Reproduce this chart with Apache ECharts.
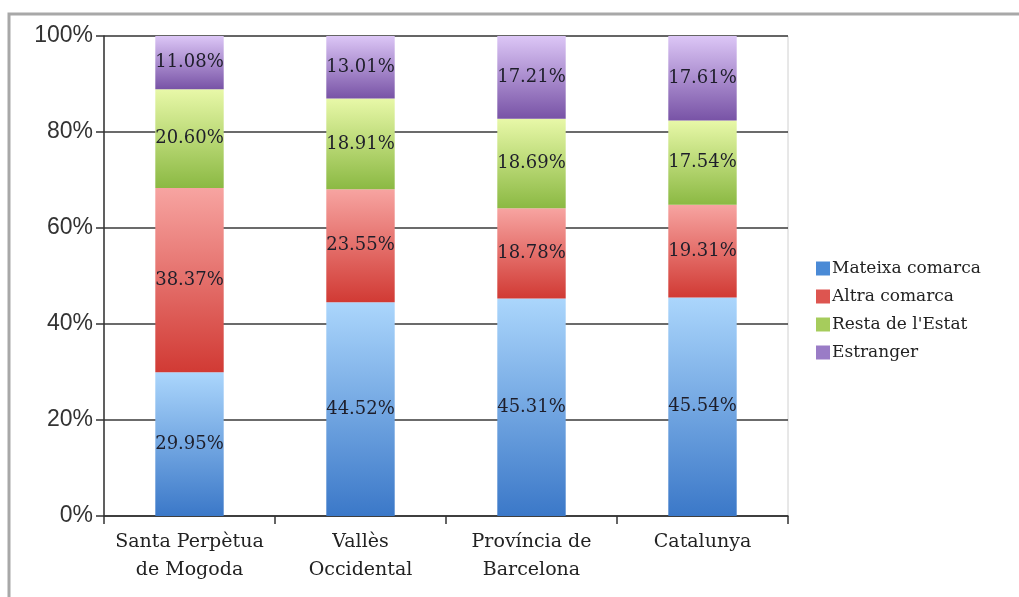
<!DOCTYPE html>
<html>
<head>
<meta charset="utf-8">
<script src="https://cdn.jsdelivr.net/npm/echarts@6/dist/echarts.min.js"></script>
<style>
html,body{margin:0;padding:0;background:#fff;}
#chart{width:1019px;height:597px;}
</style>
</head>
<body>
<div id="chart"></div>
<script>
const categories = ["Santa Perpètua\nde Mogoda", "Vallès\nOccidental", "Província de\nBarcelona", "Catalunya"];
const seriesNames = ["Mateixa comarca", "Altra comarca", "Resta de l'Estat", "Estranger"];
const mateixaComarca = [29.95, 44.52, 45.31, 45.54];
const altraComarca = [38.37, 23.55, 18.78, 19.31];
const restaEstat = [20.60, 18.91, 18.69, 17.54];
const estranger = [11.08, 13.01, 17.21, 17.61];
const yTicks = [0, 20, 40, 60, 80, 100];

const gradients = [
  ["#abd6fc", "#3b78c8"],
  ["#f7a4a1", "#d13a34"],
  ["#e8f8a8", "#8bb943"],
  ["#dcc6f6", "#7853a6"]
];
const legendColors = ["#4a8ad6", "#dd5550", "#a6cc5c", "#9a7cc6"];
const allData = [mateixaComarca, altraComarca, restaEstat, estranger];

const chart = echarts.init(document.getElementById('chart'));
const serif = "'DejaVu Serif', serif";

const series = allData.map((d, i) => ({
  name: seriesNames[i],
  type: 'bar',
  stack: 'total',
  barWidth: '40%',
  data: d,
  itemStyle: {
    color: new echarts.graphic.LinearGradient(0, 0, 0, 1, [
      {offset: 0, color: gradients[i][0]},
      {offset: 1, color: gradients[i][1]}
    ])
  },
  label: {
    show: true,
    position: 'inside',
    formatter: p => p.value.toFixed(2) + '%',
    fontFamily: serif,
    fontSize: 18,
    color: '#1e1e2a'
  },
  emphasis: {disabled: true}
}));

chart.setOption({
  animation: false,
  backgroundColor: '#fff',
  graphic: [{
    type: 'rect',
    shape: {x: 9, y: 14, width: 1040, height: 620},
    style: {fill: 'none', stroke: '#a8a8a8', lineWidth: 3},
    silent: true
  }],
  grid: {
    left: 104, right: 231, top: 36, bottom: 81,
    show: true, borderColor: '#d0d0d0', borderWidth: 1
  },
  legend: {
    orient: 'vertical',
    left: 811,
    top: 255,
    itemWidth: 14,
    itemHeight: 14,
    itemGap: 11,
    icon: 'rect',
    data: seriesNames.map((n, i) => ({name: n, itemStyle: {color: legendColors[i]}})),
    textStyle: {fontFamily: serif, fontSize: 17, color: '#222', padding: [0, 0, 0, -3]}
  },
  xAxis: {
    type: 'category',
    data: categories,
    axisLine: {lineStyle: {color: '#333', width: 1.5}},
    axisTick: {show: true, interval: 0, length: 8, lineStyle: {color: '#333', width: 1.5}},
    axisLabel: {
      interval: 0,
      fontFamily: serif, fontSize: 19, color: '#222', margin: 12, lineHeight: 28
    }
  },
  yAxis: {
    type: 'value',
    min: yTicks[0],
    max: yTicks[yTicks.length - 1],
    interval: yTicks[1] - yTicks[0],
    axisLine: {show: true, lineStyle: {color: '#333', width: 1.5}},
    axisTick: {show: true, length: 8, lineStyle: {color: '#333', width: 1.5}},
    axisLabel: {
      formatter: '{value}%',
      fontFamily: "'Liberation Sans', sans-serif",
      fontSize: 23,
      color: '#333',
      margin: 11
    },
    splitLine: {lineStyle: {color: '#3a3a3a', width: 1.5}}
  },
  series: series
});
</script>
</body>
</html>
